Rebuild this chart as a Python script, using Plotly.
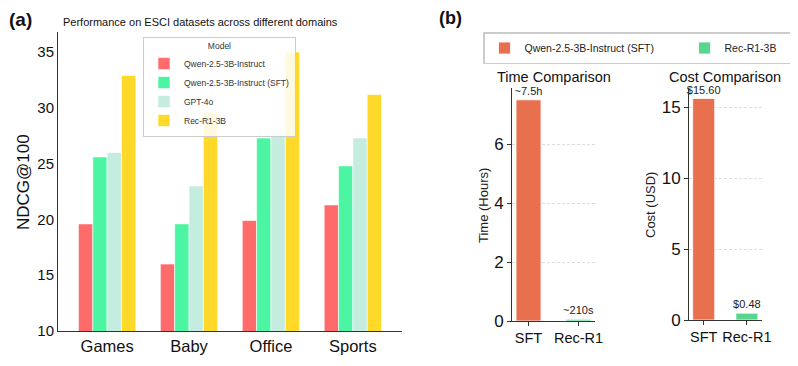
import plotly.graph_objs as go

# Panel (a): NDCG@100 on ESCI domains
domains = ['Games', 'Baby', 'Office', 'Sports']
qwen_base = [19.6, 16.0, 19.9, 21.3]
qwen_sft = [25.6, 19.6, 27.3, 24.8]
gpt4o = [26.0, 23.0, 27.9, 27.3]
rec_r1 = [32.9, 29.6, 35.0, 31.2]

# Panel (b): training time / cost
methods = ['SFT', 'Rec-R1']
time_hours = [7.5, 210 / 3600]
time_labels = ['~7.5h', '~210s']
cost_usd = [15.60, 0.48]
cost_labels = ['$15.60', '$0.48']

FONT = 'Liberation Sans, Arial, Helvetica, sans-serif'
AXIS = '#333333'

# the page body has an 8px margin, so lay out in page pixels and shift
W, H, OFF = 790, 358, 8

def px_x(p):
    return (p - OFF) / W

def px_y(p):
    return 1 - (p - OFF) / H

fig = go.Figure()

series_a = [
    ('Qwen-2.5-3B-Instruct', qwen_base, '#FF6B6B'),
    ('Qwen-2.5-3B-Instruct (SFT)', qwen_sft, '#4CF5A2'),
    ('GPT-4o', gpt4o, '#C4EDDF'),
    ('Rec-R1-3B', rec_r1, '#FFD92A'),
]
for name, vals, col in series_a:
    fig.add_trace(go.Bar(x=domains, y=vals, name=name, marker_color=col,
                         marker_line=dict(color='white', width=0.6),
                         xaxis='x', yaxis='y', legend='legend'))

# Panel (b) bars, sharing one offset group so they stay centred
sft_col, rec_col = '#E9704F', '#57D68F'
fig.add_trace(go.Bar(x=methods[:1], y=time_hours[:1], text=time_labels[:1],
                     name='Qwen-2.5-3B-Instruct (SFT)', marker_color=sft_col,
                     width=0.5, offsetgroup='b', legend='legend2',
                     xaxis='x2', yaxis='y2'))
fig.add_trace(go.Bar(x=methods[1:], y=time_hours[1:], text=time_labels[1:],
                     name='Rec-R1-3B', marker_color=rec_col,
                     width=0.5, offsetgroup='b', legend='legend2',
                     xaxis='x2', yaxis='y2'))
fig.add_trace(go.Bar(x=methods[:1], y=cost_usd[:1], text=cost_labels[:1],
                     marker_color=sft_col, width=0.51, offsetgroup='c',
                     showlegend=False, xaxis='x3', yaxis='y3'))
fig.add_trace(go.Bar(x=methods[1:], y=cost_usd[1:], text=cost_labels[1:],
                     marker_color=rec_col, width=0.51, offsetgroup='c',
                     showlegend=False, xaxis='x3', yaxis='y3'))
for ax in ('x2', 'x3'):
    fig.update_traces(textposition='outside', cliponaxis=False, constraintext='none',
                      marker_line=dict(color='white', width=0.8),
                      textfont=dict(family=FONT, size=11, color='#222'),
                      selector=dict(xaxis=ax))

common = dict(showline=True, linecolor=AXIS, linewidth=1, zeroline=False)

def tick_font(size):
    return dict(family=FONT, size=size, color='#111')

grid = dict(showgrid=True, gridcolor='#dddddd', griddash='3px,2px', gridwidth=1)

fig.update_layout(
    width=W, height=H,
    margin=dict(l=0, r=0, t=0, b=0, autoexpand=False),
    paper_bgcolor='white', plot_bgcolor='white',
    font=dict(family=FONT, color='#111'),
    barmode='group', bargap=0.3, bargroupgap=0,
    xaxis=dict(domain=[px_x(58), px_x(402)], range=[-0.6, 3.6], anchor='y',
               showgrid=False, ticks='', tickangle=0, tickfont=tick_font(16.5), **common),
    yaxis=dict(domain=[px_y(331), px_y(32)], range=[10, 36.8], anchor='x',
               tickvals=[10, 15, 20, 25, 30, 35], showgrid=False, ticks='',
               tickfont=tick_font(15), **common),
    xaxis2=dict(domain=[px_x(512), px_x(595)], range=[-0.33, 1.33], anchor='y2',
                showgrid=False, ticks='outside', ticklen=4, tickcolor=AXIS, tickangle=0,
                tickfont=tick_font(14.5), **common),
    yaxis2=dict(domain=[px_y(321), px_y(88)], range=[0, 7.9], anchor='x2',
                tickvals=[0, 2, 4, 6], ticks='outside', ticklen=4, tickcolor=AXIS,
                tickfont=tick_font(17), **grid, **common),
    xaxis3=dict(domain=[px_x(689), px_x(762)], range=[-0.34, 1.35], anchor='y3',
                showgrid=False, ticks='outside', ticklen=4, tickcolor=AXIS, tickangle=0,
                tickfont=tick_font(14.5), **common),
    yaxis3=dict(domain=[px_y(320), px_y(88)], range=[0, 16.34], anchor='x3',
                tickvals=[0, 5, 10, 15], ticks='outside', ticklen=4, tickcolor=AXIS,
                tickfont=tick_font(17), **grid, **common),
    legend=dict(x=px_x(143), y=px_y(37), xanchor='left', yanchor='top',
                bgcolor='rgba(255,255,255,0.85)', bordercolor='#cccccc', borderwidth=1,
                font=dict(family=FONT, size=8.5, color='#333'),
                title=dict(text='Model', side='top center', font=dict(size=8.5, color='#333')),
                tracegroupgap=0, itemwidth=30),
    legend2=dict(x=px_x(483), y=px_y(32), xanchor='left', yanchor='top', orientation='h',
                 bgcolor='white', bordercolor='#cccccc', borderwidth=1.5,
                 font=dict(family=FONT, size=10.5, color='#222'),
                 entrywidth=155, entrywidthmode='pixels', itemwidth=30),
    showlegend=True,
)

def note(text, px, py, size, angle=0, anchor='center', color='#111'):
    fig.add_annotation(text=text, x=px_x(px), y=px_y(py), xref='paper', yref='paper',
                       xanchor=anchor, yanchor='middle', textangle=angle, showarrow=False,
                       font=dict(family=FONT, size=size, color=color))

note('<b>(a)</b>', 7, 20, 19, anchor='left')
note('<b>(b)</b>', 437, 18, 18, anchor='left')
note('Performance on ESCI datasets across different domains', 61, 22, 11, anchor='left')
note('Time Comparison', 553.5, 77, 14.5)
note('Cost Comparison', 725, 77, 14.5)
note('NDCG@100', 23, 182, 17, angle=-90)
note('Time (Hours)', 483, 206, 13, angle=-90, color='#222')
note('Cost (USD)', 650, 205, 13, angle=-90, color='#222')

fig.write_html("out.html")
